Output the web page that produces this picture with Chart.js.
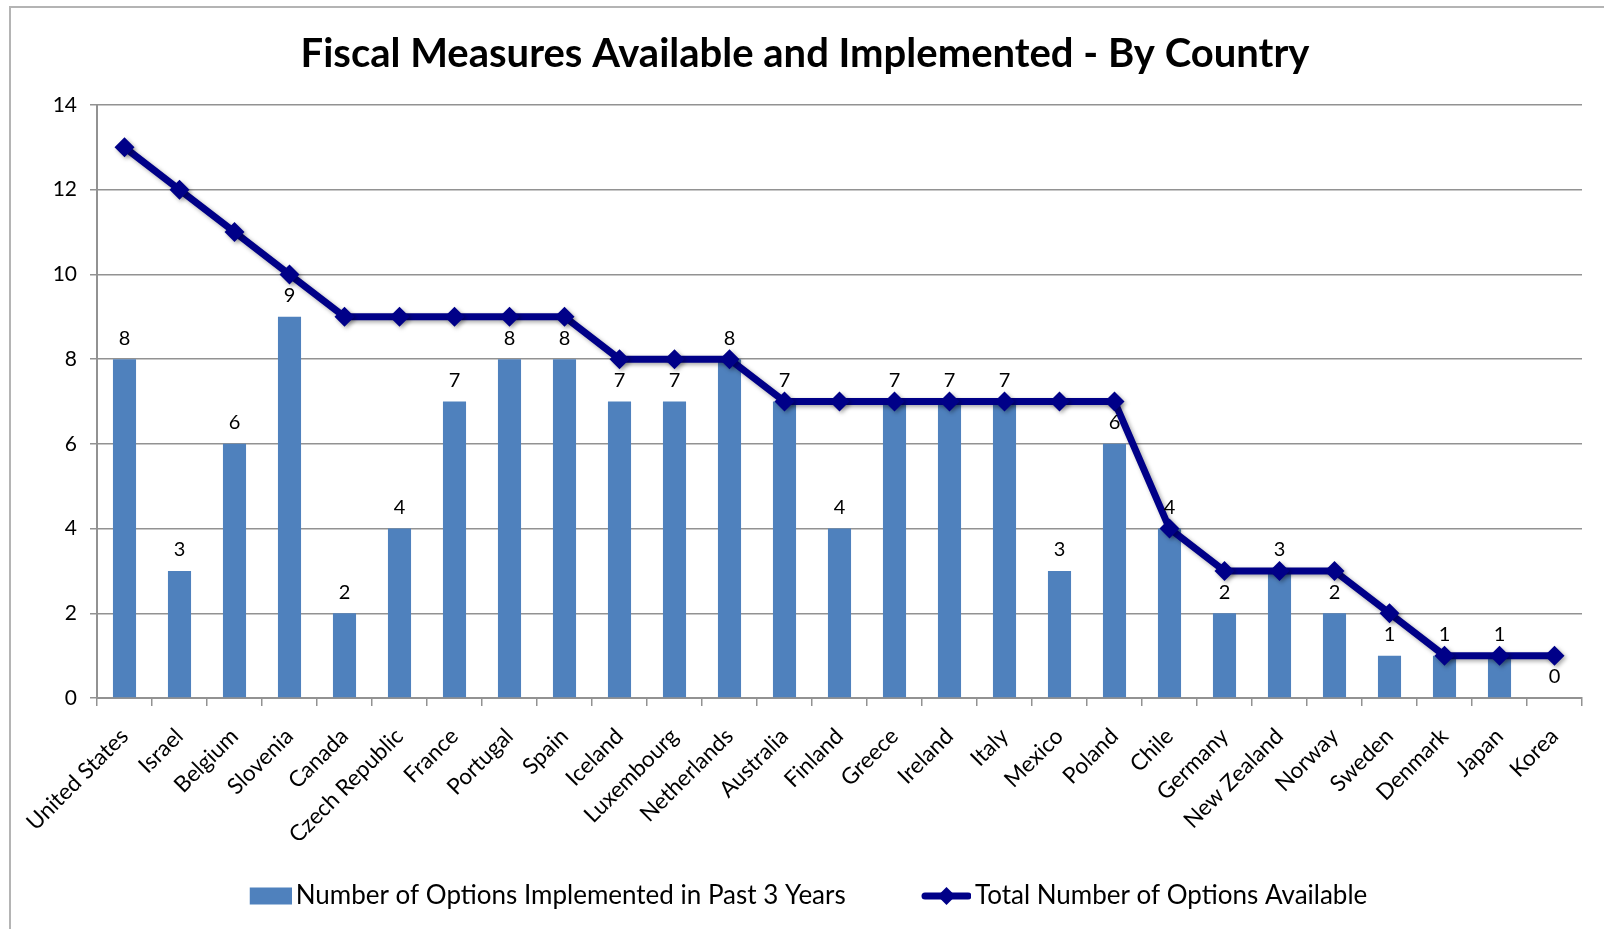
<!DOCTYPE html>
<html>
<head>
<meta charset="utf-8">
<script src="https://cdn.jsdelivr.net/npm/chart.js@4.4.1/dist/chart.umd.min.js"></script>
<style>
  html, body { margin: 0; padding: 0; background: #ffffff; }
  #wrap { position: relative; width: 1604px; height: 929px; }
  canvas { display: block; }
</style>
</head>
<body>
<div id="wrap"><canvas id="c" width="1604" height="929"></canvas></div>
<script>
const countries = ["United States", "Israel", "Belgium", "Slovenia", "Canada", "Czech Republic", "France", "Portugal", "Spain", "Iceland", "Luxembourg", "Netherlands", "Australia", "Finland", "Greece", "Ireland", "Italy", "Mexico", "Poland", "Chile", "Germany", "New Zealand", "Norway", "Sweden", "Denmark", "Japan", "Korea"];
const implemented = [8, 3, 6, 9, 2, 4, 7, 8, 8, 7, 7, 8, 7, 4, 7, 7, 7, 3, 6, 4, 2, 3, 2, 1, 1, 1, 0];
const available = [13, 12, 11, 10, 9, 9, 9, 9, 9, 8, 8, 8, 7, 7, 7, 7, 7, 7, 7, 4, 3, 3, 3, 2, 1, 1, 1];
const yTicks = [0, 2, 4, 6, 8, 10, 12, 14];
const titleText = "Fiscal Measures Available and Implemented - By Country";
const barLabel = "Number of Options Implemented in Past 3 Years";
const lineLabel = "Total Number of Options Available";

const BAR_COLOR = "#4F81BD";
const LINE_COLOR = "#000088";
const GRID_COLOR = "#929292";
const FONT = "Lato, 'Open Sans', sans-serif";
const LEGEND_FONT_SIZE = 26;

// legend symbols
function makeBarSymbol() {
  const cv = document.createElement('canvas');
  cv.width = 58; cv.height = 20;
  const g = cv.getContext('2d');
  g.fillStyle = BAR_COLOR;
  g.fillRect(16, 1.5, 42, 17);
  return cv;
}
function makeLineSymbol() {
  const cv = document.createElement('canvas');
  cv.width = 58; cv.height = 24;
  const g = cv.getContext('2d');
  g.strokeStyle = LINE_COLOR;
  g.lineWidth = 7;
  g.lineCap = 'round';
  g.beginPath(); g.moveTo(12, 12); g.lineTo(55, 12); g.stroke();
  g.fillStyle = LINE_COLOR;
  g.beginPath();
  g.moveTo(33.5, 3); g.lineTo(42.5, 12); g.lineTo(33.5, 21); g.lineTo(24.5, 12); g.closePath();
  g.fill();
  return cv;
}
const barSym = makeBarSymbol();
const lineSym = makeLineSymbol();

const framePlugin = {
  id: 'frame',
  beforeDraw(chart) {
    const ctx = chart.ctx;
    ctx.save();
    ctx.strokeStyle = '#b4b4b4';
    ctx.lineWidth = 2;
    ctx.beginPath();
    ctx.moveTo(10, 929);
    ctx.lineTo(10, 7);
    ctx.lineTo(1604, 7);
    ctx.stroke();
    ctx.restore();
  }
};

const shadowPlugin = {
  id: 'lineShadow',
  beforeDatasetDraw(chart, args) {
    if (args.index === 1) {
      const ctx = chart.ctx;
      ctx.save();
      ctx.shadowColor = 'rgba(0,0,0,0.35)';
      ctx.shadowBlur = 4;
      ctx.shadowOffsetX = 2;
      ctx.shadowOffsetY = 2;
    }
  },
  afterDatasetDraw(chart, args) {
    if (args.index === 1) chart.ctx.restore();
  }
};

const labelPlugin = {
  id: 'barLabels',
  afterDatasetsDraw(chart) {
    const ctx = chart.ctx;
    const meta = chart.getDatasetMeta(0);
    ctx.save();
    ctx.fillStyle = '#000';
    ctx.font = "20px " + FONT;
    ctx.textAlign = 'center';
    ctx.textBaseline = 'middle';
    meta.data.forEach((el, i) => {
      ctx.fillText(String(implemented[i]), el.x, el.y - 21);
    });
    ctx.restore();
  }
};

new Chart(document.getElementById('c'), {
  data: {
    labels: countries,
    datasets: [
      {
        type: 'bar',
        label: barLabel,
        data: implemented,
        backgroundColor: BAR_COLOR,
        barPercentage: 0.42,
        categoryPercentage: 1.0,
        order: 2
      },
      {
        type: 'line',
        label: lineLabel,
        data: available,
        borderColor: LINE_COLOR,
        backgroundColor: LINE_COLOR,
        borderWidth: 7,
        pointStyle: 'rectRot',
        pointRadius: 10,
        pointBorderWidth: 0,
        pointBackgroundColor: LINE_COLOR,
        tension: 0,
        order: 1
      }
    ]
  },
  options: {
    responsive: false,
    animation: false,
    devicePixelRatio: 1,
    layout: { padding: { left: 28, right: 22, top: 0, bottom: 10 } },
    plugins: {
      title: {
        display: true,
        text: titleText,
        color: '#000',
        font: { family: FONT, size: 40, weight: 'bold' },
        padding: { top: 30, bottom: 27 }
      },
      legend: {
        position: 'bottom',
        labels: {
          usePointStyle: true,
          pointStyleWidth: 40,
          padding: 43,
          color: '#000',
          font: { family: FONT, size: LEGEND_FONT_SIZE },
          generateLabels() {
            return [
              { text: barLabel + "\u00A0\u00A0\u00A0\u00A0\u00A0", pointStyle: barSym, rotation: 0, fillStyle: BAR_COLOR, strokeStyle: BAR_COLOR, lineWidth: 0, datasetIndex: 0, hidden: false, fontColor: '#000' },
              { text: lineLabel, pointStyle: lineSym, rotation: 0, fillStyle: LINE_COLOR, strokeStyle: LINE_COLOR, lineWidth: 0, datasetIndex: 1, hidden: false, fontColor: '#000' }
            ];
          }
        }
      },
      tooltip: { enabled: false }
    },
    scales: {
      x: {
        offset: true,
        grid: { offset: true, drawOnChartArea: false, drawTicks: true, tickLength: 8, color: GRID_COLOR, lineWidth: 1.5 },
        border: { color: GRID_COLOR, width: 2 },
        ticks: { color: '#000', font: { family: FONT, size: 22.5 }, minRotation: 45, maxRotation: 45, autoSkip: false, padding: 17 },
        afterFit(scale) { scale.height = 142; }
      },
      y: {
        min: 0,
        max: 14,
        afterBuildTicks(scale) { scale.ticks = yTicks.map(v => ({ value: v })); },
        grid: { color: GRID_COLOR, lineWidth: 1.5, tickLength: 7, drawTicks: true },
        border: { color: GRID_COLOR, width: 2 },
        ticks: { color: '#000', font: { family: FONT, size: 21 }, padding: 13 },
        afterFit(scale) { scale.width = 69; }
      }
    }
  },
  plugins: [framePlugin, shadowPlugin, labelPlugin]
});
</script>
</body>
</html>
